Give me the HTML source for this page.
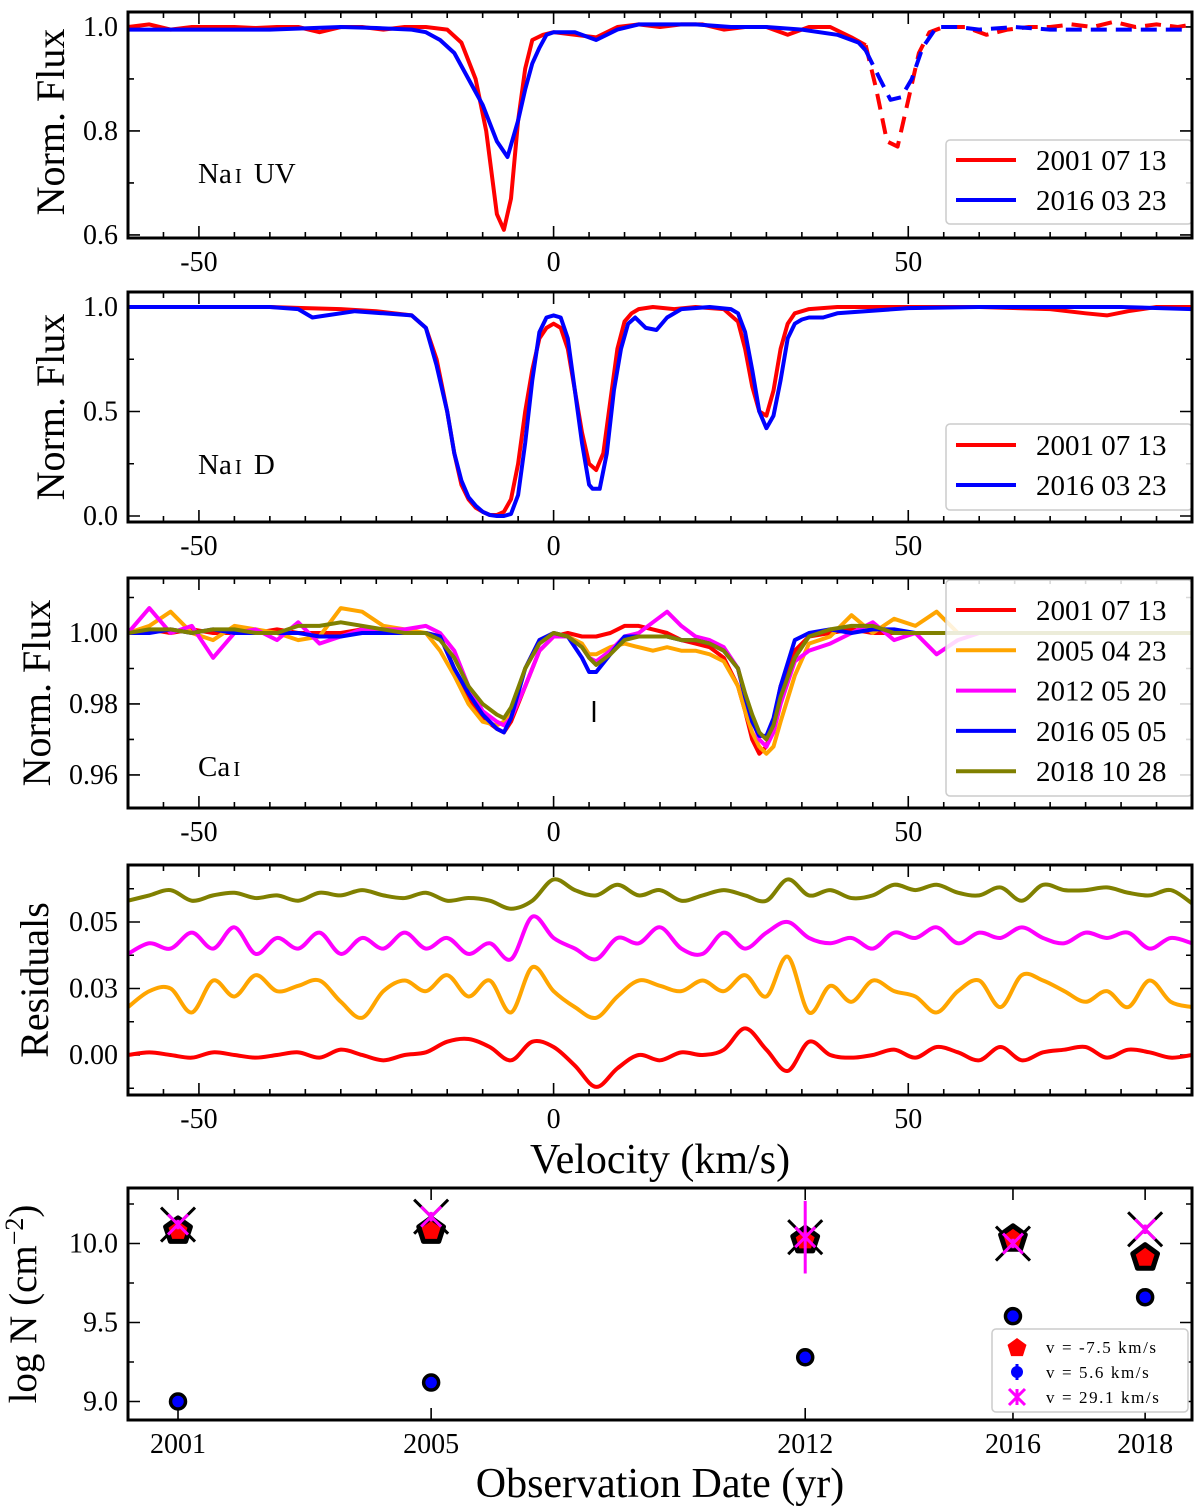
<!DOCTYPE html>
<html><head><meta charset="utf-8"><style>
body{margin:0;background:#fff}
svg{display:block;font-family:"Liberation Serif","DejaVu Serif",serif}
</style></head><body>
<svg id="c" width="1200" height="1512" viewBox="0 0 1200 1512" xmlns="http://www.w3.org/2000/svg"></svg>
<script>
// ---------- Panel 1 (Na I UV) ----------
const p1RedV=[-60,-57,-54,-51,-48,-45,-42,-39,-36,-33,-30,-27,-24,-21,-18,-15,-13,-11,-9.5,-8,-7,-6,-5,-4,-3,-1.5,0,3,6,9,12,15,18,21,24,27,30,33,36,39,42,44];
const p1RedF=[1.0,1.005,0.995,1.0,1.0,1.0,0.998,1.0,1.0,0.99,1.0,1.0,0.995,1.0,1.0,0.995,0.97,0.9,0.8,0.64,0.61,0.67,0.82,0.92,0.975,0.985,0.99,0.985,0.98,1.0,1.005,1.0,1.005,1.005,0.995,1.0,1.0,0.985,1.0,1.0,0.98,0.965];
const p1RedDV=[44,45.5,47,48.5,50,51.5,53,55,58,61,64,67,70,73,76,79,82,85,88,90];
const p1RedDF=[0.965,0.88,0.78,0.77,0.86,0.95,0.99,1.0,1.0,0.985,0.995,1.0,1.0,1.005,1.0,1.01,1.0,1.005,1.0,1.005];
const p1BlueV=[-60,-50,-40,-30,-25,-20,-18,-16,-14,-12,-10,-8,-6.5,-5,-4,-3,-2,-1,0,3,6,9,12,15,20,25,30,35,40,43,44];
const p1BlueF=[0.995,0.995,0.995,1.0,0.998,0.995,0.99,0.975,0.95,0.9,0.85,0.78,0.75,0.82,0.88,0.93,0.96,0.985,0.99,0.99,0.975,0.995,1.005,1.005,1.005,1.0,1.0,0.995,0.985,0.97,0.955];
const p1BlueDV=[44,46,47.5,49,50.5,52,54,57,60,65,70,75,80,85,90];
const p1BlueDF=[0.955,0.9,0.86,0.865,0.9,0.96,1.0,1.0,0.995,1.0,0.995,0.995,0.995,0.995,0.995];
// ---------- Panel 2 (Na I D) ----------
const p2RedV=[-60,-50,-40,-35,-30,-25,-20,-18,-16.5,-15,-14,-13,-12,-11,-10,-9,-8,-7,-6,-5,-4,-3,-2,-1,0,1,2,3,4,5,6,7,8,9,10,11,12,14,17,20,24,26,27,28,29,30,31,32,33,34,36,40,50,60,70,75,78,81,85,90];
const p2RedF=[1.0,1.0,1.0,0.995,0.99,0.98,0.96,0.9,0.75,0.5,0.3,0.15,0.08,0.04,0.02,0.005,0.005,0.02,0.08,0.25,0.5,0.7,0.85,0.9,0.92,0.9,0.8,0.6,0.4,0.25,0.22,0.3,0.55,0.8,0.93,0.97,0.99,1.0,0.99,1.0,0.99,0.93,0.8,0.62,0.5,0.48,0.6,0.8,0.92,0.97,0.99,1.0,1.0,1.0,0.99,0.97,0.96,0.98,1.0,1.0];
const p2BlueV=[-60,-50,-40,-36,-34,-32,-28,-24,-20,-18,-16.5,-15,-14,-13,-12,-11,-10,-9,-8,-7,-6,-5,-4,-3,-2,-1,0,1,2,3,4,5,5.5,6.5,7.5,8.5,9.5,10.5,11.5,13,14.5,16,18,22,25,26,27,28,29,30,31,32,33,34,35,36,38,40,50,60,70,80,90];
const p2BlueF=[1.0,1.0,1.0,0.99,0.95,0.96,0.98,0.97,0.96,0.9,0.72,0.5,0.3,0.17,0.09,0.05,0.02,0.005,0.0,0.0,0.01,0.1,0.35,0.65,0.88,0.95,0.96,0.95,0.85,0.6,0.35,0.15,0.13,0.13,0.3,0.6,0.8,0.92,0.95,0.9,0.89,0.95,0.99,1.0,0.99,0.97,0.88,0.7,0.5,0.42,0.48,0.65,0.85,0.92,0.94,0.95,0.95,0.97,0.995,1.0,1.0,1.0,0.99];
// ---------- Panel 3 (Ca I) ----------
const caV=[-60,-57,-54,-51,-48,-45,-42,-39,-36,-33,-30,-27,-24,-21,-18,-16,-14,-12,-10,-8,-7,-6,-4,-2,0,2,4,5,6,8,10,12,14,16,18,20,22,24,26,27,28,29,30,31,32,34,36,39,42,45,48,51,54,57,60,63,66,69,72,75,78,81,84,87,90];
const ca2001=[1.0,1.001,1.0,1.001,1.0,1.0,1.0,1.001,1.0,1.0, 1.0,1.001,1.0,1.0,1.0,0.999,0.99,0.982,0.976,0.973, 0.972,0.975,0.985,0.995,0.999,1.0,0.999,0.999,0.999,1.0, 1.002,1.002,1.001,1.0,0.998,0.997,0.996,0.993,0.985,0.978, 0.97,0.966,0.968,0.975,0.985,0.995,0.999,1.0,1.001,1.0, 1.0,1.0,1.0,1.0,1.0,1.0,1.0,1.0,1.0,1.0, 1.0,1.0,1.0,1.0,1.0];
const ca2005=[1.0,1.002,1.006,1.0,0.998,1.002,1.001,1.0,0.998,0.999, 1.007,1.006,1.002,1.001,1.0,0.995,0.988,0.98,0.975,0.974, 0.975,0.978,0.99,0.998,1.0,0.999,0.997,0.994,0.994,0.996, 0.997,0.996,0.995,0.996,0.995,0.995,0.994,0.992,0.985,0.978, 0.972,0.968,0.966,0.968,0.975,0.988,0.997,0.999,1.005,1.0, 1.004,1.002,1.006,1.0,1.0,1.0,1.0,1.0,1.0,1.0, 1.0,1.0,1.0,1.0,1.0];
const ca2012=[1.0,1.007,1.0,1.002,0.993,1.0,1.001,0.998,1.003,0.997, 0.999,1.001,1.001,1.001,1.002,1.0,0.995,0.985,0.978,0.975, 0.974,0.976,0.985,0.995,0.999,0.999,0.996,0.993,0.992,0.995, 0.999,1.0,1.003,1.006,1.002,0.999,0.998,0.996,0.99,0.982, 0.976,0.97,0.968,0.972,0.98,0.992,0.995,0.997,1.0,1.003, 0.998,1.0,0.994,0.998,1.0,1.0,1.0,1.0,1.0,1.0, 1.0,1.0,1.0,1.0,1.0];
const ca2016=[1.0,1.0,1.001,1.0,1.001,1.0,1.0,1.0,1.0,0.999, 0.999,1.0,1.0,1.0,1.0,0.999,0.99,0.983,0.977,0.973, 0.972,0.976,0.99,0.998,1.0,0.999,0.993,0.989,0.989,0.994, 0.999,0.999,0.999,0.999,0.998,0.998,0.997,0.995,0.99,0.982, 0.975,0.971,0.971,0.976,0.985,0.998,1.0,1.001,1.0,1.001, 1.001,1.0,1.0,1.0,1.0,1.0,1.0,1.0,1.0,1.0, 1.0,1.0,1.0,1.0,1.0];
const ca2018=[1.0,1.001,1.001,1.0,1.001,1.001,1.0,1.0,1.002,1.002, 1.003,1.002,1.001,1.0,1.0,0.998,0.993,0.985,0.98,0.977, 0.976,0.979,0.99,0.997,1.0,0.999,0.996,0.993,0.991,0.994, 0.998,0.999,0.999,0.999,0.998,0.998,0.997,0.995,0.99,0.983, 0.977,0.972,0.97,0.974,0.982,0.993,0.999,1.001,1.002,1.002, 1.0,1.0,1.0,1.0,1.0,1.0,1.0,1.0,1.0,1.0, 1.0,1.0,1.0,1.0,1.0];
// ---------- Panel 4 (Residuals) ----------
const resV=[-60,-57,-54,-51,-48,-45,-42,-39,-36,-33,-30,-27,-24,-21,-18,-15,-12,-9,-6,-3,0,3,6,9,12,15,18,21,24,27,30,33,36,39,42,45,48,51,54,57,60,63,66,69,72,75,78,81,84,87,90];
const res2001=[0.000,0.001,0.000,-0.001,0.001,0.000,-0.001,0.000,0.001,-0.001, 0.002,0.000,-0.002,0.000,0.001,0.005,0.006,0.003,-0.002,0.005, 0.003,-0.004,-0.012,-0.005,0.000,-0.002,0.001,0.000,0.002,0.010, 0.002,-0.006,0.005,0.000,-0.001,0.000,0.002,-0.001,0.003,0.001, -0.002,0.003,-0.002,0.001,0.002,0.003,-0.001,0.002,0.001,-0.001,0.000];
const res2005=[0.018,0.024,0.025,0.016,0.028,0.022,0.030,0.024,0.026,0.028, 0.020,0.014,0.024,0.028,0.024,0.030,0.022,0.028,0.016,0.033, 0.024,0.018,0.014,0.022,0.028,0.026,0.024,0.028,0.024,0.030, 0.022,0.037,0.016,0.026,0.020,0.028,0.024,0.022,0.016,0.024, 0.028,0.018,0.030,0.028,0.024,0.020,0.024,0.018,0.028,0.020,0.018];
const res2012=[0.038,0.042,0.040,0.046,0.040,0.048,0.038,0.044,0.040,0.046, 0.038,0.044,0.040,0.046,0.040,0.044,0.038,0.042,0.036,0.052, 0.044,0.040,0.036,0.044,0.042,0.048,0.040,0.038,0.046,0.040, 0.046,0.050,0.044,0.042,0.044,0.040,0.046,0.044,0.048,0.042, 0.046,0.044,0.048,0.044,0.042,0.046,0.044,0.046,0.040,0.044,0.042];
const res2018=[0.058,0.060,0.062,0.058,0.060,0.061,0.059,0.060,0.058,0.061, 0.060,0.062,0.060,0.059,0.061,0.058,0.059,0.058,0.055,0.058, 0.066,0.062,0.060,0.064,0.060,0.062,0.058,0.060,0.062,0.060, 0.058,0.066,0.060,0.062,0.059,0.060,0.064,0.062,0.064,0.061, 0.060,0.063,0.058,0.064,0.062,0.062,0.063,0.061,0.060,0.062,0.057];
// ---------- Panel 5 (column densities) ----------
const obsYears=[2001.0,2005.52,2012.2,2015.91,2018.27];
const yearLabels=["2001","2005","2012","2016","2018"];
const logNm75=[10.08,10.08,10.02,10.03,9.91];
const logN56=[9.0,9.12,9.28,9.54,9.66];
const logN291=[10.12,10.17,10.04,10.0,10.09];
const err291=[0.03,0.03,0.23,0.03,0.03];

const NS="http://www.w3.org/2000/svg";
const svg=document.getElementById('c');
function el(tag,attrs,parent){const e=document.createElementNS(NS,tag);for(const k in attrs)e.setAttribute(k,attrs[k]);(parent||svg).appendChild(e);return e;}
function txt(s,attrs,parent){const e=el('text',attrs,parent);e.textContent=s;return e;}

const L=128,R=1192;
function mkX(a,b){return v=>L+(v-a)/(b-a)*(R-L);}
function mkY(top,bot,a,b){return v=>bot-(v-a)/(b-a)*(bot-top);}

function frame(name,top,bot,xs,ys,xMaj,xMin,yMaj,yMin,xlabels,ylabels){
  const g=el('g',{});
  
  
  let d='';
  xMin.forEach(v=>{const x=xs(v);d+=`M${x},${bot}v-6M${x},${top}v6`;});
  xMaj.forEach(v=>{const x=xs(v);d+=`M${x},${bot}v-12M${x},${top}v12`;});
  yMin.forEach(v=>{const y=ys(v);d+=`M${L},${y}h6M${R},${y}h-6`;});
  yMaj.forEach(v=>{const y=ys(v);d+=`M${L},${y}h12M${R},${y}h-12`;});
  const t=el('path',{d:d,stroke:'#000','stroke-width':1.6,fill:'none'},g);
  
  
  xlabels.forEach(([v,s])=>{const e=txt(s,{x:xs(v),y:bot+33,'font-size':28,'text-anchor':'middle'},g);
    
    });
  ylabels.forEach(([v,s])=>{const e=txt(s,{x:L-10,y:ys(v)+9,'font-size':28,'text-anchor':'end'},g);
    
    });
  return g;
}
function border(top,bot){const r=el('rect',{x:L,y:top,width:R-L,height:bot-top,fill:'none',stroke:'#000','stroke-width':3});
  
  }
function clip(id,top,bot){const c=el('clipPath',{id:id});el('rect',{x:L,y:top,width:R-L,height:bot-top},c);}
function line(vs,fs,xs,ys,color,name,clipId,dash){
  const pts=vs.map((v,i)=>xs(v).toFixed(1)+','+ys(fs[i]).toFixed(1)).join(' ');
  const p=el('polyline',{points:pts,fill:'none',stroke:color,'stroke-width':4,'stroke-linejoin':'round','clip-path':`url(#${clipId})`});
  if(dash)p.setAttribute('stroke-dasharray',dash);
  
  
}
function smooth(vs,fs,xs,ys,color,name,clipId){
  const P=vs.map((v,i)=>[xs(v),ys(fs[i])]);
  let d=`M${P[0][0]},${P[0][1]}`;
  for(let i=0;i<P.length-1;i++){const p0=P[Math.max(0,i-1)],p1=P[i],p2=P[i+1],p3=P[Math.min(P.length-1,i+2)];
    d+=`C${p1[0]+(p2[0]-p0[0])/6},${p1[1]+(p2[1]-p0[1])/6} ${p2[0]-(p3[0]-p1[0])/6},${p2[1]-(p3[1]-p1[1])/6} ${p2[0]},${p2[1]}`;}
  const p=el('path',{d:d,fill:'none',stroke:color,'stroke-width':4,'clip-path':`url(#${clipId})`});
  
  
}
function legend(name,x,y,w,h,items,fs,lineLen,rowH,firstY){
  const g=el('g',{});
  
  
  el('rect',{x:x,y:y,width:w,height:h,rx:4,fill:'#fff','fill-opacity':0.85,stroke:'#ccc','stroke-width':1.5},g);
  items.forEach(([c,s],i)=>{const yy=firstY+i*rowH;
    const ln=el('line',{x1:x+10,x2:x+10+lineLen,y1:yy,y2:yy,stroke:c,'stroke-width':4},g);
    
    
    const t=txt(s,{x:x+90,y:yy+10,'font-size':fs},g);
    
    });
}
function ylab(s,x,yc,name,fs){const e=txt(s,{x:x,y:yc,'font-size':fs||40,'text-anchor':'middle',transform:`rotate(-90 ${x} ${yc})`});
  
  return e;}

const vMaj=[-50,0,50],vMin=[];for(let v=-60;v<=90;v+=5)vMin.push(v);
const vLab=[[-50,'-50'],[0,'0'],[50,'50']];
const xs=mkX(-60,90);

// Panel 1
{const top=12,bot=238;const ys=mkY(top,bot,0.5942,1.0288);clip('k1',top,bot);
 frame('panel-na-uv',top,bot,xs,ys,vMaj,vMin,[0.6,0.8,1.0],[0.6,0.7,0.8,0.9,1.0],vLab,[[0.6,'0.6'],[0.8,'0.8'],[1.0,'1.0']]);
 line(p1RedV,p1RedF,xs,ys,'#f00','series-2001-solid','k1');
 line(p1RedDV,p1RedDF,xs,ys,'#f00','series-2001-dashed','k1','16,9');
 line(p1BlueV,p1BlueF,xs,ys,'#00f','series-2016-solid','k1');
 line(p1BlueDV,p1BlueDF,xs,ys,'#00f','series-2016-dashed','k1','16,9');
 const t=txt('Na',{x:198,y:183,'font-size':29},null);
 const t2=el('tspan',{dx:3,'font-size':21},t);t2.textContent='I';const t3=el('tspan',{dx:12,'font-size':29},t);t3.textContent='UV';
 legend('legend-na-uv',946,140,246,84,[['#f00','2001 07 13'],['#00f','2016 03 23']],29,60,40,160);
 border(top,bot);ylab('Norm. Flux',64,122,'y-axis-title-1');}
// Panel 2
{const top=292,bot=522;const ys=mkY(top,bot,-0.0287,1.0718);clip('k2',top,bot);
 frame('panel-na-d',top,bot,xs,ys,vMaj,vMin,[0,0.5,1.0],[0,0.25,0.5,0.75,1.0],vLab,[[0,'0.0'],[0.5,'0.5'],[1.0,'1.0']]);
 line(p2RedV,p2RedF,xs,ys,'#f00','series-2001','k2');
 line(p2BlueV,p2BlueF,xs,ys,'#00f','series-2016','k2');
 const t=txt('Na',{x:198,y:474,'font-size':29});
 const t2=el('tspan',{dx:3,'font-size':21},t);t2.textContent='I';const t3=el('tspan',{dx:12,'font-size':29},t);t3.textContent='D';
 legend('legend-na-d',946,424,246,86,[['#f00','2001 07 13'],['#00f','2016 03 23']],29,60,40,445);
 border(top,bot);ylab('Norm. Flux',64,407,'y-axis-title-2');}
// Panel 3
{const top=578,bot=808;const ys=mkY(top,bot,0.95070,1.01549);clip('k3',top,bot);
 frame('panel-ca',top,bot,xs,ys,vMaj,vMin,[0.96,0.98,1.0],[0.96,0.97,0.98,0.99,1.0,1.01],vLab,[[0.96,'0.96'],[0.98,'0.98'],[1.0,'1.00']]);
 line(caV,ca2001,xs,ys,'#f00','series-2001','k3');
 line(caV,ca2005,xs,ys,'#ffa500','series-2005','k3');
 line(caV,ca2012,xs,ys,'#f0f','series-2012','k3');
 line(caV,ca2016,xs,ys,'#00f','series-2016','k3');
 line(caV,ca2018,xs,ys,'#808000','series-2018','k3');
 const m=el('line',{x1:594,x2:594,y1:701,y2:722,stroke:'#000','stroke-width':2.5});
 const t=txt('Ca',{x:198,y:776,'font-size':29});
 const t2=el('tspan',{dx:3,'font-size':21},t);t2.textContent='I';
 legend('legend-ca',946,580,246,216,[['#f00','2001 07 13'],['#ffa500','2005 04 23'],['#f0f','2012 05 20'],['#00f','2016 05 05'],['#808000','2018 10 28']],29,60,40.3,610);
 border(top,bot);ylab('Norm. Flux',50,693,'y-axis-title-3');}
// Panel 4
{const top=865,bot=1095;const ys=mkY(top,bot,-0.01504,0.07143);clip('k4',top,bot);
 frame('panel-residuals',top,bot,xs,ys,vMaj,vMin,[0,0.025,0.05],[-0.0125,0,0.0125,0.025,0.0375,0.05,0.0625],vLab,[[0,'0.00'],[0.025,'0.03'],[0.05,'0.05']]);
 smooth(resV,res2001,xs,ys,'#f00','residual-2001','k4');
 smooth(resV,res2005,xs,ys,'#ffa500','residual-2005','k4');
 smooth(resV,res2012,xs,ys,'#f0f','residual-2012','k4');
 smooth(resV,res2018,xs,ys,'#808000','residual-2018','k4');
 border(top,bot);ylab('Residuals',48,980,'y-axis-title-4');
 const xl=txt('Velocity (km/s)',{x:660,y:1173,'font-size':42,'text-anchor':'middle'});}
// Panel 5
{const top=1188,bot=1420;const xy=mkX(2000.107,2019.107);const ys=mkY(top,bot,8.8829,10.3513);clip('k5',top,bot);
 frame('panel-logN',top,bot,xy,ys,obsYears,[],[9.0,9.5,10.0],[9.0,9.25,9.5,9.75,10.0,10.25],obsYears.map((y,i)=>[y,yearLabels[i]]),[[9.0,'9.0'],[9.5,'9.5'],[10.0,'10.0']]);
 const g=el('g',{'clip-path':'url(#k5)'});
 function pent(cx,cy,r){let s='';for(let k=0;k<5;k++){const a=-Math.PI/2+k*2*Math.PI/5;s+=(cx+r*Math.cos(a)).toFixed(1)+','+(cy+r*Math.sin(a)).toFixed(1)+' ';}return s;}
 obsYears.forEach((yr,i)=>{const x=xy(yr);
   const yc=ys(logN291[i]);
   const bx=el('path',{d:`M${x-17},${yc-17}L${x+17},${yc+17}M${x+17},${yc-17}L${x-17},${yc+17}`,stroke:'#000','stroke-width':3},g);
   
   const p=el('polygon',{points:pent(x,ys(logNm75[i]),13),fill:'#f00',stroke:'#000','stroke-width':5,'stroke-linejoin':'round'},g);
   
   const c=el('circle',{cx:x,cy:ys(logN56[i]),r:7.5,fill:'#00f',stroke:'#000','stroke-width':3.5},g);
   
   const eb=el('line',{x1:x,x2:x,y1:ys(logN291[i]-err291[i]),y2:ys(logN291[i]+err291[i]),stroke:'#f0f','stroke-width':3},g);
   
   const mx=el('path',{d:`M${x-10},${yc-10}L${x+10},${yc+10}M${x+10},${yc-10}L${x-10},${yc+10}`,stroke:'#f0f','stroke-width':3},g);
   
 });
 const lg=el('g',{});
 el('rect',{x:992,y:1329,width:196,height:83,rx:4,fill:'#fff',stroke:'#ccc','stroke-width':1.5},lg);
 el('polygon',{points:pent(1017,1348,10),fill:'#f00'},lg);
 el('circle',{cx:1017,cy:1372,r:6,fill:'#00f'},lg);el('line',{x1:1017,x2:1017,y1:1364,y2:1380,stroke:'#00f','stroke-width':3},lg);
 el('path',{d:'M1009,1389L1025,1405M1025,1389L1009,1405M1017,1389V1405',stroke:'#f0f','stroke-width':3},lg);
 [['v = -7.5 km/s',1353],['v = 5.6 km/s',1378],['v = 29.1 km/s',1403]].forEach(([s,y])=>{const t=txt(s,{x:1046,y:y,'font-size':17,'letter-spacing':1.6},lg);});
 border(top,bot);
 const yl=ylab('log N (cm',36,1304,'y-axis-title-5',39);const sup=el('tspan',{dy:-13,'font-size':26},yl);sup.textContent='−2';const cl=el('tspan',{dy:13},yl);cl.textContent=')';
 const xl=txt('Observation Date (yr)',{x:660,y:1497,'font-size':42,'text-anchor':'middle'});}
</script>
</body></html>
